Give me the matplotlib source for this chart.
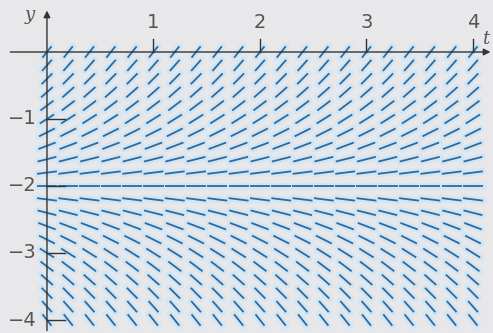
import numpy as np
import matplotlib
matplotlib.use('Agg')
import matplotlib.pyplot as plt
from matplotlib.collections import LineCollection

# 方向场 dy/dt = y + 2
t_grid = np.linspace(0, 4, 21)
y_grid = np.linspace(0, -4, 21)
t_ticks = [1, 2, 3, 4]
y_ticks = [-1, -2, -3, -4]


def slope(t, y):
    return y + 2


fig = plt.figure(figsize=(4.93, 3.33), dpi=100)
fig.patch.set_facecolor('#e8e8ea')
ax = fig.add_axes([0, 0, 1, 1])
ax.set_facecolor('#e8e8ea')
ax.set_xlim(-0.441, 4.188)
ax.set_ylim(-4.194, 0.776)
ax.axis('off')

# 线段长度（数据单位下归一化）
seg_len = 0.19

segs = []
for t in t_grid:
    for y in y_grid:
        m = slope(t, y)
        n = np.hypot(1.0, m)
        ht = seg_len / 2 / n
        hy = seg_len / 2 * m / n
        segs.append([(t - ht, y - hy), (t + ht, y + hy)])

ax.add_collection(LineCollection(segs, colors='#d0e6f5', linewidths=5.0,
                                 capstyle='round', zorder=1))
ax.add_collection(LineCollection(segs, colors='#33689a', linewidths=1.3,
                                 capstyle='butt', zorder=2))

# 坐标轴
ax.annotate('', xy=(4.19, 0), xytext=(-0.37, 0),
            arrowprops=dict(arrowstyle='-|>', color='#333333', lw=1.0,
                            mutation_scale=10), zorder=3)
ax.annotate('', xy=(0, 0.66), xytext=(0, -4.2),
            arrowprops=dict(arrowstyle='-|>', color='#333333', lw=1.0,
                            mutation_scale=10), zorder=3)

for t in t_ticks:
    ax.plot([t, t], [0, 0.2], color='#333333', lw=1.0, zorder=3)
    ax.text(t, 0.3, str(t), ha='center', va='bottom', fontsize=14,
            color='#555555', zorder=3)
for y in y_ticks:
    ax.plot([0, 0.17], [y, y], color='#333333', lw=1.0, zorder=3)
    ax.text(-0.1, y, '\u2212' + str(-y), ha='right', va='center',
            fontsize=14, color='#555555', zorder=3)

ax.text(-0.16, 0.55, 'y', ha='center', va='center', fontsize=13,
        family='DejaVu Serif', style='italic', color='#555555')
ax.text(4.12, 0.2, 't', ha='center', va='center', fontsize=13,
        family='DejaVu Serif', style='italic', color='#555555')

fig.savefig('out.png', dpi=100, facecolor=fig.get_facecolor())
